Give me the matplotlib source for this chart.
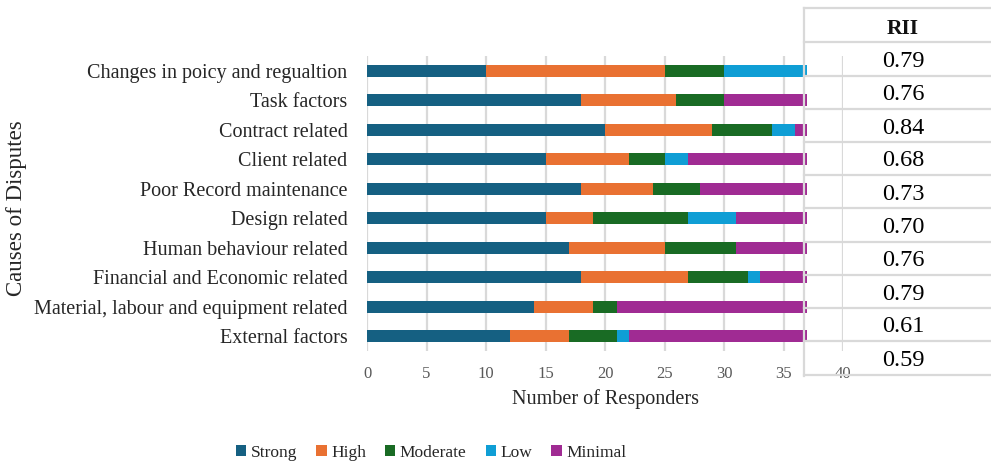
import numpy as np
import matplotlib.pyplot as plt
from matplotlib.lines import Line2D

plt.rcParams['font.family'] = ['Liberation Serif', 'DejaVu Serif']

# Survey responses per cause
causes = ['Changes in poicy and regualtion', 'Task factors', 'Contract related',
          'Client related', 'Poor Record maintenance', 'Design related',
          'Human behaviour related', 'Financial and Economic related',
          'Material, labour and equipment related', 'External factors']
strong = [10, 18, 20, 15, 18, 15, 17, 18, 14, 12]
high = [15, 8, 9, 7, 6, 4, 8, 9, 5, 5]
moderate = [5, 4, 5, 3, 4, 8, 6, 5, 2, 4]
low = [7, 0, 2, 2, 0, 4, 0, 1, 0, 1]
minimal = [0, 7, 1, 10, 9, 6, 6, 4, 16, 15]
levels = ['Strong', 'High', 'Moderate', 'Low', 'Minimal']
colors = ['#156082', '#E97132', '#196B24', '#0F9ED5', '#A02B93']

# RII column
rii = ['0.79', '0.76', '0.84', '0.68', '0.73', '0.70', '0.76', '0.79', '0.61', '0.59']

W, H = 991, 463
fig = plt.figure(figsize=(W / 100, H / 100), dpi=100)
ax = fig.add_axes([367 / W, 1 - 351 / H, (843 - 367) / W, (351 - 56) / H])

y = np.arange(len(causes))
left = np.zeros(len(causes))
for name, vals, c in zip(levels, [strong, high, moderate, low, minimal], colors):
    ax.barh(y, vals, left=left, height=0.41, color=c, label=name, zorder=3)
    left += np.array(vals)

ax.set_xlim(0, 40)
ax.set_ylim(len(causes) - 0.5, -0.5)
ax.set_xticks(range(0, 41, 5))
ax.set_yticks(y)
ax.set_yticklabels(causes, fontsize=14.5, color='#262626')
ax.tick_params(axis='x', labelsize=12, colors='#595959', length=0, pad=11)
ax.tick_params(axis='y', length=0, pad=14)
ax.grid(axis='x', color='#d9d9d9', linewidth=1.6, zorder=0)
for s in ax.spines.values():
    s.set_visible(False)

ax.set_xlabel('Number of Responders', fontsize=14.5, color='#262626', labelpad=5)
fig.text(17 / W, 1 - 208 / H, 'Causes of Disputes', rotation=90, fontsize=16.5,
         color='#262626', ha='center', va='center')

fig.legend(loc='center', bbox_to_anchor=(431 / W, 1 - 453 / H), ncol=5,
           frameon=False, fontsize=12.5, handlelength=0.6, handleheight=0.6,
           handletextpad=0.25, columnspacing=1.1, labelcolor='#262626')

# RII table on the right
tx = 804 / W
line_kw = dict(color='#d9d9d9', linewidth=1.6, transform=fig.transFigure)
fig.add_artist(Line2D([tx, tx], [1 - 8 / H, 1 - 376 / H], **line_kw))
rows = [8, 42, 76, 109, 142, 175, 208, 242, 275, 308, 341, 375]
for r in rows:
    fig.add_artist(Line2D([tx, 1], [1 - r / H, 1 - r / H], **line_kw))
fig.text(903 / W, 1 - 34 / H, 'RII', fontsize=15.5, ha='center', va='baseline',
         color='#111111', fontweight='bold')
for i, v in enumerate(rii):
    base = (rows[i + 1] + rows[i + 2]) / 2 + 8
    fig.text(903 / W, 1 - base / H, v, fontsize=17.5, ha='center', va='baseline',
             color='black')

fig.savefig('out.png', dpi=100)
